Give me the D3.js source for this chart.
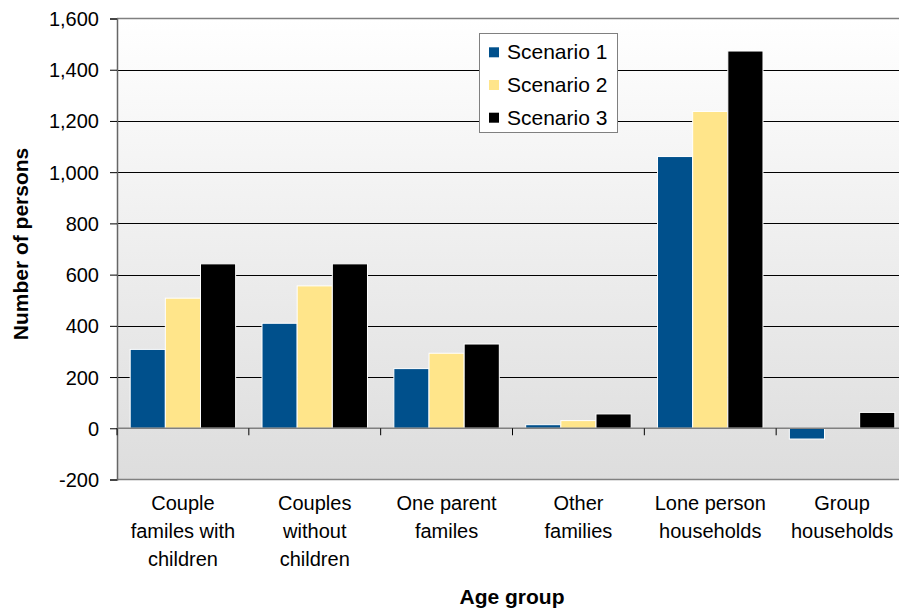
<!DOCTYPE html>
<html><head><meta charset="utf-8">
<script src="https://cdn.jsdelivr.net/npm/d3@7"></script>
<style>body{margin:0;background:#fff}svg{display:block}text{font-family:"Liberation Sans",Arial,sans-serif}</style>
</head><body><svg id="c" width="899" height="610"></svg>
<script>
const categories = [["Couple","familes with","children"],["Couples","without","children"],["One parent","familes"],["Other","families"],["Lone person","households"],["Group","households"]];
const seriesNames = ["Scenario 1","Scenario 2","Scenario 3"];
const scenario1 = [308, 410, 233, 14, 1061, -42];
const scenario2 = [508, 556, 293, 30, 1237, 0];
const scenario3 = [642, 642, 329, 56, 1473, 62];
const yTicks = [-200, 0, 200, 400, 600, 800, 1000, 1200, 1400, 1600];
const colors = ["#00508C", "#FFE58A", "#000000"];

const svg = d3.select("#c");
const L = 117, R = 908, T = 18.5, B = 479.5;
const x = d3.scaleBand().domain(d3.range(categories.length)).range([L, R]).paddingInner(0.2).paddingOuter(0.1);
const x0 = d3.scaleBand().domain(d3.range(categories.length)).range([L, R]);
const xs = d3.scaleBand().domain(d3.range(3)).range([0, x.bandwidth()]);
const y = d3.scaleLinear().domain([-200, 1600]).range([B, T]);

const defs = svg.append("defs");
const g = defs.append("linearGradient").attr("id","bg").attr("x1",0).attr("y1",0).attr("x2",0).attr("y2",1);
g.append("stop").attr("offset","0%").attr("stop-color","#ffffff");
g.append("stop").attr("offset","100%").attr("stop-color","#dddddd");
svg.append("rect").attr("x",L).attr("y",T).attr("width",R-L).attr("height",B-T).attr("fill","url(#bg)");

// gridlines
svg.append("g").selectAll("line").data(yTicks.filter(d=>d!==0 && d!==-200 && d!==1600)).join("line")
  .attr("x1",L).attr("x2",R).attr("y1",d=>Math.round(y(d))+0.5).attr("y2",d=>Math.round(y(d))+0.5)
  .attr("stroke","#000").attr("stroke-width",1);
// top & bottom border
[1600,-200].forEach(v=>svg.append("line").attr("x1",L).attr("x2",R).attr("y1",y(v)).attr("y2",y(v)).attr("stroke","#808080").attr("stroke-width",1.5));

// y axis
const fmt = d3.format(",");
const yAxis = d3.axisLeft(y).tickValues(yTicks).tickSize(7).tickFormat(d=>fmt(d).replace("\u2212","-")).tickPadding(0);
const ya = svg.append("g").attr("transform",`translate(${L},0)`).call(yAxis);
ya.select(".domain").attr("stroke","#666").attr("stroke-width",1.5);
ya.selectAll(".tick line").attr("stroke","#000");
ya.selectAll(".tick text").attr("font-size",20).attr("fill","#000").attr("x",-18).attr("dy","0.35em").attr("font-family","Liberation Sans, Arial, sans-serif");

// bars
const data = categories.map((c,i)=>[scenario1[i],scenario2[i],scenario3[i]]);
const gb = svg.append("g");
data.forEach((vals,i)=>{
  vals.forEach((v,j)=>{
    if (v===0) return;
    gb.append("rect")
      .attr("x", x(i)+xs(j)).attr("width", xs.bandwidth())
      .attr("y", y(Math.max(0,v))).attr("height", Math.abs(y(v)-y(0)))
      .attr("fill", colors[j]).attr("stroke","#fff").attr("stroke-width",1);
  });
});

// zero axis with ticks
const xa = svg.append("g").attr("transform",`translate(0,${y(0)})`);
xa.append("line").attr("x1",L).attr("x2",R).attr("stroke","#808080").attr("stroke-width",1.5);
xa.selectAll("line.t").data(d3.range(categories.length+1)).join("line").attr("class","t")
  .attr("x1",d=>d<categories.length?x0(d):R).attr("x2",d=>d<categories.length?x0(d):R).attr("y1",0).attr("y2",7)
  .attr("stroke","#000").attr("stroke-width",1);

// category labels
categories.forEach((lines,i)=>{
  const cx = x0(i)+x0.bandwidth()/2;
  const t = svg.append("text").attr("x", cx).attr("y", 510)
    .attr("text-anchor","middle").attr("font-size",20).attr("fill","#000");
  lines.forEach((ln,k)=>t.append("tspan").attr("x", cx).attr("dy", k?28:0).text(ln));
});

// axis titles
svg.append("text").attr("x",512).attr("y",604).attr("text-anchor","middle").attr("font-size",21).attr("font-weight","bold").text("Age group");
svg.append("text").attr("transform","translate(28,244) rotate(-90)").attr("text-anchor","middle").attr("font-size",21).attr("font-weight","bold").text("Number of persons");

// legend
const lg = svg.append("g");
lg.append("rect").attr("x",479.5).attr("y",33.5).attr("width",138).attr("height",99).attr("fill","#fff").attr("stroke","#808080").attr("stroke-width",1);
seriesNames.forEach((n,j)=>{
  const top = 47.3 + j*32.7;
  lg.append("rect").attr("x",489).attr("y",top).attr("width",10).attr("height",10).attr("fill",colors[j]);
  lg.append("text").attr("x",507).attr("y",top+12).attr("font-size",21).text(n);
});
</script></body></html>
